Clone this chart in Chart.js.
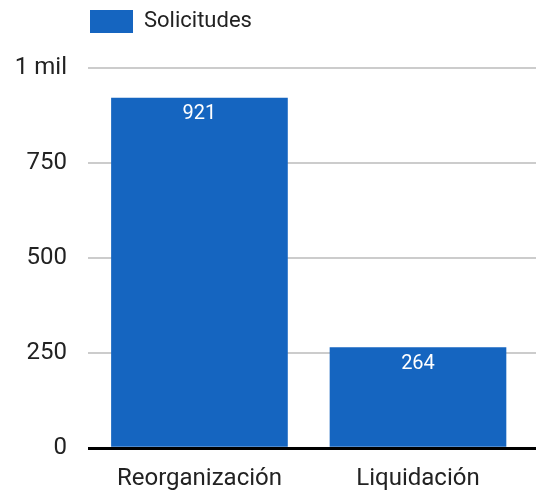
<!DOCTYPE html>
<html><head><meta charset="utf-8">
<script src="https://cdn.jsdelivr.net/npm/chart.js@4/dist/chart.umd.min.js"></script>
<style>html,body{margin:0;padding:0;background:#fff}#wrap{width:536px;height:493px}</style>
</head><body><div id="wrap"><canvas id="c" width="536" height="493"></canvas></div>
<script>
const categories = ["Reorganización", "Liquidación"];
const seriesLabel = "Solicitudes";
const values = [921, 264];
const yTicks = [0, 250, 500, 750, 1000];
const yTickLabels = ["0", "250", "500", "750", "1 mil"];

const barColor = "#1565c0";
const FONT = "Roboto";

const valueLabels = {
  id: "valueLabels",
  afterDatasetsDraw(chart) {
    const ctx = chart.ctx;
    const meta = chart.getDatasetMeta(0);
    ctx.save();
    ctx.font = "20px " + FONT;
    ctx.fillStyle = "#ffffff";
    ctx.textAlign = "center";
    ctx.textBaseline = "middle";
    meta.data.forEach((bar, i) => {
      ctx.fillText(String(values[i]), bar.x, bar.y + 16);
    });
    ctx.restore();
  }
};

const legendToTop = {
  id: "legendToTop",
  afterLayout(chart) {
    const lg = chart.legend;
    if (!lg) return;
    const h = lg.height;
    lg.top = 8;
    lg.bottom = 8 + h;
  }
};

new Chart(document.getElementById("c"), {
  type: "bar",
  data: {
    datasets: [{
      label: seriesLabel,
      data: values.map((v, i) => ({x: i, y: v})),
      backgroundColor: barColor,
      borderWidth: 0,
      barThickness: 176
    }]
  },
  options: {
    responsive: false,
    animation: false,
    layout: {padding: {top: 8, right: 0, bottom: 0, left: 0}},
    plugins: {
      tooltip: {enabled: false},
      legend: {
        display: true,
        position: "top",
        align: "start",
        fullSize: false,
        labels: {
          boxWidth: 43,
          boxHeight: 23,
          padding: 2,
          color: "#222",
          font: {family: FONT, size: 22}
        }
      }
    },
    scales: {
      x: {
        type: "linear",
        offset: false,
        min: -0.51,
        max: 1.54,
        grid: {display: false, drawTicks: false, offset: false},
        border: {display: false},
        afterBuildTicks(scale) {
          scale.ticks = categories.map((c, i) => ({value: i}));
        },
        afterFit(scale) { scale.height = 45; },
        ticks: {
          padding: 17,
          color: "#222",
          font: {family: FONT, size: 24},
          maxRotation: 0,
          autoSkip: false,
          callback: (v) => categories[v] ?? ""
        }
      },
      y: {
        min: 0,
        max: 1000,
        afterBuildTicks(scale) {
          scale.ticks = yTicks.map(v => ({value: v}));
        },
        afterFit(scale) { scale.width = 88; scale.paddingTop = 68; },
        grid: {
          drawTicks: false,
          color: (c) => c.tick && c.tick.value === 0 ? "#000" : "#cccccc",
          lineWidth: (c) => c.tick && c.tick.value === 0 ? 3 : 2
        },
        border: {display: false},
        ticks: {
          padding: 21,
          color: "#222",
          font: {family: FONT, size: 24},
          callback: (v) => yTickLabels[yTicks.indexOf(v)] ?? ""
        }
      }
    }
  },
  plugins: [valueLabels, legendToTop]
});
</script></body></html>
